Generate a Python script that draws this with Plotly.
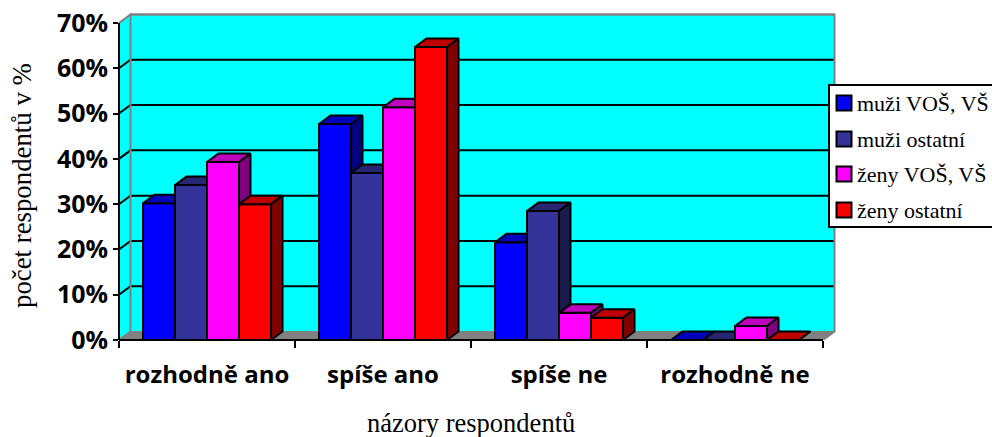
import plotly.graph_objects as go

categories = ["rozhodně ano", "spíše ano", "spíše ne", "rozhodně ne"]
series_names = ["muži VOŠ, VŠ", "muži ostatní", "ženy VOŠ, VŠ", "ženy ostatní"]
muzi_vos = [30.2, 47.7, 21.6, 0]
muzi_ostatni = [34.2, 36.9, 28.5, 0]
zeny_vos = [39.3, 51.4, 6.0, 3.1]
zeny_ostatni = [30.0, 64.7, 4.9, 0]
series_values = [muzi_vos, muzi_ostatni, zeny_vos, zeny_ostatni]
y_ticks = [0, 10, 20, 30, 40, 50, 60, 70]
y_labels = ["0%", "10%", "20%", "30%", "40%", "50%", "60%", "70%"]
x_title = "názory respondentů"
y_title = "počet respondentů v %"

front_colors = ["#0000ff", "#333399", "#ff00ff", "#ff0000"]
top_colors = ["#0000bf", "#262673", "#bf00bf", "#bf0000"]
side_colors = ["#00007f", "#1a1a4d", "#7f007f", "#7f0000"]

# geometry in page pixels
L, R, T, B = 119, 823, 23, 340
W, H = 992, 437
xs = (R - L) / 4
ys = (B - T) / 70
DX = 11.5 / xs
DY = 8.5 / ys
BW = 32 / xs
START = 24 / xs
PR = R + 13   # right end of the plot area (wall included)
PT = T - 10   # top end of the plot area (wall included)
XMAX = (PR - L) / xs
YMAX = (B - PT) / ys

n = len(categories)
CENTERS = [i + 0.5 for i in range(n)]
fig = go.Figure()


def poly(xv, yv, fill, line="black", lw=2, xa="x", ya="y"):
    fig.add_trace(go.Scatter(x=xv, y=yv, mode="lines", fill="toself", fillcolor=fill,
                             line=dict(color=line, width=lw), hoverinfo="skip",
                             showlegend=False, xaxis=xa, yaxis=ya))


# walls and floor
poly([0, DX, DX, 0, 0], [0, DY, 70 + DY, 70, 0], "#00ffff", "rgba(0,0,0,0)", 0)
poly([DX, n + DX, n + DX, DX, DX], [DY, DY, 70 + DY, 70 + DY, DY], "#00ffff", "rgba(0,0,0,0)", 0)
poly([0, DX, n + DX, n, 0], [0, DY, DY, 0, 0], "#808080", "#808080", 1)
for v in y_ticks[1:-1]:
    fig.add_trace(go.Scatter(x=[0, DX, n + DX], y=[v, v + DY, v + DY], mode="lines",
                             line=dict(color="black", width=2), hoverinfo="skip", showlegend=False))
fig.add_trace(go.Scatter(x=[0, DX, n + DX, n + DX, n], y=[70, 70 + DY, 70 + DY, DY, 0], mode="lines",
                         line=dict(color="#808080", width=2), hoverinfo="skip", showlegend=False))
fig.add_trace(go.Scatter(x=[0, DX, DX, n + DX], y=[0, DY, 70 + DY, 70 + DY], mode="lines",
                         line=dict(color="#808080", width=2), hoverinfo="skip", showlegend=False))

# bars: one overlay axis pair per series so that each hides the faces of the one before
for s, (name, vals) in enumerate(zip(series_names, series_values)):
    xa, ya = f"x{s + 2}", f"y{s + 2}"
    off = START + s * BW - 0.5
    fig.add_trace(go.Bar(x=CENTERS, y=vals, name=name, width=BW, offset=off, xaxis=xa, yaxis=ya,
                         marker=dict(color=front_colors[s], line=dict(color="black", width=2)),
                         cliponaxis=False, showlegend=False))
    for c, v in zip(CENTERS, vals):
        x0 = c + off
        x1 = x0 + BW
        poly([x0, x0 + DX, x1 + DX, x1, x0], [v, v + DY, v + DY, v, v], top_colors[s], xa=xa, ya=ya)
        if v > 0:
            poly([x1, x1 + DX, x1 + DX, x1, x1], [v, v + DY, DY, 0, v], side_colors[s], xa=xa, ya=ya)

layout = dict(
    width=W, height=H, autosize=False,
    margin=dict(l=L, r=W - PR, t=PT, b=H - B, pad=0),
    paper_bgcolor="white", plot_bgcolor="rgba(0,0,0,0)",
    barmode="overlay", showlegend=False,
    font=dict(family="Open Sans", color="black"),
    xaxis=dict(range=[0, XMAX], tickmode="array", tickvals=CENTERS, ticktext=categories,
               ticks="", showgrid=False, zeroline=False, showline=False, automargin=False,
               ticklabelstandoff=18, ticklabeloverflow="allow",
               tickfont=dict(family="Open Sans", size=24, weight="bold"),
               minor=dict(tickmode="array", tickvals=list(range(n + 1)), ticks="outside",
                          ticklen=7, tickwidth=2, tickcolor="black", showgrid=False)),
    yaxis=dict(range=[0, YMAX], tickmode="array", tickvals=y_ticks, ticktext=y_labels,
               ticks="outside", ticklen=5, tickwidth=2, tickcolor="black", automargin=False,
               showgrid=False, zeroline=False, showline=False, ticklabeloverflow="allow",
               tickfont=dict(family="Open Sans", size=25, weight="bold")),
)
for s in range(4):
    layout[f"xaxis{s + 2}"] = dict(range=[0, XMAX], overlaying="x", visible=False)
    layout[f"yaxis{s + 2}"] = dict(range=[0, YMAX], overlaying="y", visible=False)
fig.update_layout(**layout)


def px(x):
    return (x - L) / (PR - L)


def py(y):
    return (B - y) / (B - PT)


# axis lines (the plot area also holds the 3-D wall, so the axes stop short of its edges)
fig.add_shape(type="line", xref="paper", yref="paper", x0=0, x1=px(R), y0=0, y1=0,
              line=dict(color="black", width=2), layer="above")
fig.add_shape(type="line", xref="paper", yref="paper", x0=0, x1=0, y0=0, y1=py(T),
              line=dict(color="black", width=2), layer="above")

# axis titles
fig.add_annotation(xref="paper", yref="paper", x=px(471), y=py(423), xanchor="center", yanchor="middle",
                   text=x_title, showarrow=False, font=dict(family="Liberation Serif", size=26.5, color="black"))
fig.add_annotation(xref="paper", yref="paper", x=px(22), y=py(186), xanchor="center", yanchor="middle",
                   text=y_title, textangle=-90, showarrow=False,
                   font=dict(family="Liberation Serif", size=26.8, color="black"))

# legend
fig.add_shape(type="rect", xref="paper", yref="paper", x0=px(829), x1=px(1000), y0=py(227), y1=py(85),
              fillcolor="white", line=dict(color="black", width=2), layer="above")
for s, (name, yc) in enumerate(zip(series_names, [103, 139, 174, 210])):
    fig.add_shape(type="rect", xref="paper", yref="paper", x0=px(836.5), x1=px(851.5), y0=py(yc + 7.5), y1=py(yc - 7.5),
                  fillcolor=front_colors[s], line=dict(color="black", width=2), layer="above")
    fig.add_annotation(xref="paper", yref="paper", x=px(855), y=py(yc), xanchor="left", yanchor="middle",
                       text=name, showarrow=False, font=dict(family="Liberation Serif", size=22, color="black"))

fig.write_html("out.html", post_script="document.body.style.margin='0';", config=dict(displayModeBar=False))
